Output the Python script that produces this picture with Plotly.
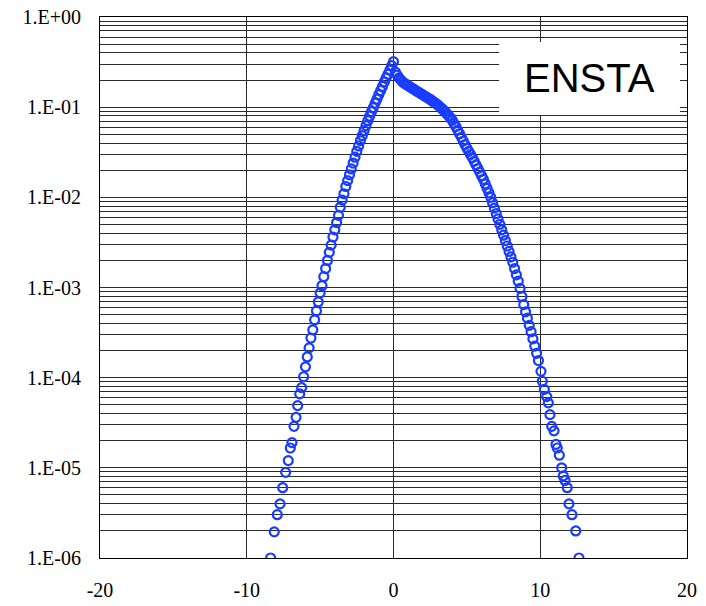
import plotly.graph_objects as go

# x position of each point (normalised variable)
x_vals = [
    -8.375, -8.125, -7.92, -7.73, -7.55, -7.35, -7.17, -7.03, -6.92, -6.78,
    -6.64, -6.53, -6.39, -6.26, -6.125, -6.0, -5.875, -5.75, -5.625, -5.5,
    -5.375, -5.25, -5.125, -5.0, -4.875, -4.75, -4.625, -4.5, -4.375, -4.25,
    -4.125, -4.0, -3.875, -3.75, -3.625, -3.5, -3.375, -3.25, -3.125, -3.0,
    -2.875, -2.75, -2.625, -2.5, -2.375, -2.25, -2.125, -2.0, -1.875, -1.75,
    -1.625, -1.5, -1.375, -1.25, -1.125, -1.0, -0.875, -0.75, -0.625, -0.5,
    -0.375, -0.25, -0.125, 0.0,
    0.125, 0.25, 0.375, 0.5, 0.625, 0.75, 0.875, 1.0, 1.125, 1.25,
    1.375, 1.5, 1.625, 1.75, 1.875, 2.0, 2.125, 2.25, 2.375, 2.5,
    2.625, 2.75, 2.875, 3.0, 3.125, 3.25, 3.375, 3.5, 3.625, 3.75,
    3.875, 4.0, 4.125, 4.25, 4.375, 4.5, 4.625, 4.75, 4.875, 5.0,
    5.125, 5.25, 5.375, 5.5, 5.625, 5.75, 5.875, 6.0, 6.125, 6.25,
    6.375, 6.5, 6.625, 6.75, 6.875, 7.0, 7.125, 7.25, 7.375, 7.5,
    7.625, 7.75, 7.875, 8.0, 8.125, 8.25, 8.375, 8.5, 8.625, 8.75,
    8.875, 9.0, 9.125, 9.25, 9.375, 9.5, 9.625, 9.75, 9.875,
    10.05, 10.14, 10.28, 10.44, 10.55, 10.66, 10.78, 10.94, 11.07, 11.16,
    11.30, 11.46, 11.57, 11.69, 11.84, 11.96, 12.16, 12.42, 12.64,
]

# log10 of the probability density
log10_pdf = [
    -6.00, -5.71, -5.52, -5.40, -5.22, -5.05, -4.92, -4.78, -4.72, -4.54,
    -4.44, -4.31, -4.18, -4.11, -3.99, -3.88, -3.77, -3.67, -3.56, -3.47,
    -3.36, -3.26, -3.16, -3.06, -2.98, -2.88, -2.79, -2.70, -2.61, -2.53,
    -2.44, -2.36, -2.28, -2.20, -2.11, -2.03, -1.96, -1.88, -1.815, -1.75,
    -1.685, -1.62, -1.555, -1.49, -1.43, -1.37, -1.315, -1.26, -1.205, -1.15,
    -1.10, -1.05, -1.005, -0.955, -0.91, -0.86, -0.815, -0.77, -0.72, -0.675,
    -0.635, -0.59, -0.54, -0.495,
    -0.61, -0.645, -0.675, -0.70, -0.72, -0.735, -0.75, -0.762, -0.775, -0.788,
    -0.80, -0.814, -0.826, -0.839, -0.851, -0.864, -0.876, -0.889, -0.901, -0.914,
    -0.928, -0.943, -0.958, -0.974, -0.991, -1.009, -1.028, -1.048, -1.07, -1.093,
    -1.118, -1.145, -1.18, -1.215, -1.255, -1.295, -1.335, -1.375, -1.415, -1.455,
    -1.49, -1.525, -1.56, -1.60, -1.64, -1.68, -1.72, -1.76, -1.80, -1.85,
    -1.90, -1.95, -2.00, -2.06, -2.12, -2.18, -2.24, -2.30, -2.36, -2.42,
    -2.48, -2.54, -2.60, -2.66, -2.72, -2.79, -2.86, -2.93, -3.01, -3.10,
    -3.19, -3.27, -3.34, -3.42, -3.49, -3.57, -3.65, -3.73, -3.81,
    -3.93, -4.04, -4.13, -4.21, -4.28, -4.41, -4.54, -4.59, -4.74, -4.78,
    -4.86, -5.00, -5.09, -5.14, -5.22, -5.40, -5.52, -5.70, -6.00,
]

pdf_vals = [10 ** v for v in log10_pdf]

x_ticks = [-20, -10, 0, 10, 20]
x_ticktext = ["-20", "-10", "0", "10", "20"]
y_ticks = [1, 1e-1, 1e-2, 1e-3, 1e-4, 1e-5, 1e-6]
y_ticktext = ["1.E+00", "1.E-01", "1.E-02", "1.E-03", "1.E-04", "1.E-05", "1.E-06"]
label_text = "ENSTA"

BLUE = "rgb(25,60,255)"
GRID = "#2a2a2a"

fig = go.Figure()
fig.add_trace(go.Scatter(
    x=x_vals, y=pdf_vals, mode="markers",
    marker=dict(symbol="circle-open", size=9, color=BLUE,
                line=dict(width=2.2, color=BLUE)),
    showlegend=False, hoverinfo="skip",
))

fig.update_layout(
    width=706, height=606,
    margin=dict(l=100, r=19, t=17, b=48),
    paper_bgcolor="white", plot_bgcolor="white",
    font=dict(family="Liberation Serif, Times New Roman, serif", size=20, color="black"),
    xaxis=dict(
        range=[-20, 20], tickvals=x_ticks, ticktext=x_ticktext,
        showgrid=True, gridcolor=GRID, gridwidth=1,
        zeroline=False, showline=True, linecolor="black", linewidth=1, mirror=True,
        ticks="", ticklabelstandoff=14, automargin=False,
    ),
    yaxis=dict(
        type="log", range=[-6, 0], tickvals=y_ticks, ticktext=y_ticktext,
        showgrid=True, gridcolor=GRID, gridwidth=1,
        minor=dict(dtick="D1", showgrid=True, gridcolor=GRID, gridwidth=1, ticks=""),
        zeroline=False, showline=True, linecolor="black", linewidth=1, mirror=True,
        ticks="", ticklabelstandoff=14, automargin=False,
    ),
)

fig.add_shape(type="rect", xref="paper", yref="paper",
              x0=0.680, x1=0.988, y0=0.819, y1=0.954,
              fillcolor="white", line=dict(width=0), layer="above")
fig.add_annotation(text=label_text, xref="paper", yref="paper",
                   x=0.834, y=0.887, xanchor="center", yanchor="middle", showarrow=False,
                   font=dict(family="Liberation Sans, Arial, sans-serif", size=40, color="black"))

fig.write_html("out.html")
